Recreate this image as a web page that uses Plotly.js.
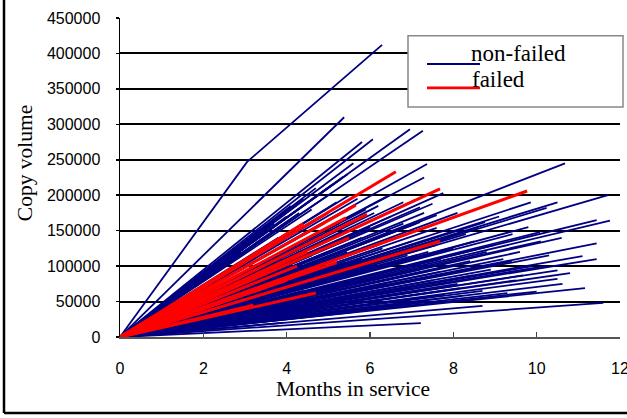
<!DOCTYPE html>
<html>
<head>
<meta charset="utf-8">
<script src="https://cdn.plot.ly/plotly-3.0.1.min.js"></script>
<style>
  html, body { margin: 0; padding: 0; background: #fff; }
  #chart { width: 627px; height: 418px; }
</style>
</head>
<body>
<div id="chart"></div>
<script>
// ---- Data (end point of each unit's usage line) ----
// Non-failed units: months in service at last observation
const nonFailedMonths = [
  5.38, 6.96, 7.27, 6.07, 5.81, 5.6, 5.47, 5.36, 5.28, 7.37, 7.3, 10.68, 11.71, 7.76, 9.86, 10.5, 10.24,
  11.44, 11.76, 10.08, 9.42, 7.6, 7.2, 7.08, 11.44, 11.44, 11.1, 8.4, 10.5, 10.62, 11.16, 10.5, 9.67,
  11.6, 8.7, 7.22, 8.76, 7.6, 7.2,
  2.6, 2.9, 3.0, 3.2, 3.3, 3.4, 3.5, 3.6, 3.7, 3.8, 3.9, 4.0, 3.1, 2.8, 3.6, 3.9, 3.0, 3.4, 3.8, 2.7,
  4.1, 4.2, 4.3, 4.4, 4.5, 4.6, 4.7, 4.8, 4.9, 4.2, 4.4, 4.6, 4.8, 5.0, 4.9, 4.3, 4.5, 4.7, 4.1, 4.0,
  4.2, 4.6, 4.4, 4.8, 4.05,
  5.0, 5.1, 5.2, 5.2, 5.3, 5.4, 5.5, 5.5, 5.6, 5.7, 5.8, 5.9, 5.3, 5.6, 5.1, 5.8, 5.4, 5.0, 5.9, 5.7,
  5.25, 5.45, 5.15,
  6.0, 6.1, 6.2, 6.3, 6.4, 6.5, 6.6, 6.7, 6.8, 6.9, 6.0, 6.3, 6.5, 6.8, 6.2, 6.6, 6.9, 6.4, 6.1, 6.7,
  7.0, 7.1, 7.2, 7.3, 7.4, 7.5, 7.55, 7.7, 7.8, 7.9, 7.15, 7.5, 7.3, 7.9, 7.6, 7.68, 7.0,
  8.0, 8.1, 8.3, 8.47, 8.6, 8.8, 8.2, 8.9, 8.5, 8.16, 8.7, 8.1,
  9.0, 9.2, 9.5, 9.8, 9.1, 9.4, 9.6, 9.9, 9.3,
  10.0, 10.1, 10.3, 10.2, 10.6, 10.8
];
// Non-failed units: cumulative copy volume at last observation
const nonFailedVolume = [
  310000, 293000, 291000, 279000, 275000, 245000, 230000, 226000, 222000, 244000, 225000, 245000, 200000, 203000, 190000, 190000, 182000,
  165000, 164000, 148000, 145000, 172000, 183000, 193000, 132000, 110000, 114000, 107000, 94000, 75000, 69000, 82000, 87000,
  48000, 44000, 19700, 162000, 154000, 162000,
  110000, 120000, 90000, 135000, 60000, 145000, 100000, 40000, 160000, 75000, 20000, 170000, 30000, 50000, 125000, 110000, 70000, 85000, 140000, 95000,
  185000, 150000, 95000, 195000, 130000, 55000, 210000, 170000, 85000, 30000, 65000, 115000, 140000, 200000, 160000, 175000, 45000, 100000, 120000, 140000,
  75000, 180000, 155000, 125000, 100000,
  175000, 215000, 125000, 190000, 70000, 150000, 95000, 200000, 35000, 165000, 110000, 180000, 135000, 80000, 50000, 140000, 105000, 120000, 60000, 195000,
  160000, 120000, 90000,
  155000, 100000, 185000, 125000, 75000, 170000, 140000, 90000, 190000, 115000, 50000, 40000, 105000, 160000, 130000, 65000, 145000, 198000, 175000, 120000,
  135000, 160000, 95000, 175000, 120000, 80000, 140000, 110000, 60000, 140000, 116000, 188000, 50000, 100000, 130000, 92000, 70000,
  125000, 75000, 145000, 87000, 155000, 120000, 58000, 95000, 135000, 69000, 65000, 175000,
  130000, 110000, 80000, 155000, 170000, 107000, 120000, 100000, 62000,
  64000, 135000, 115000, 100000, 140000, 90000
];
// The heaviest non-failed unit (its line bends near 3 months)
const topUnitMonths = [0, 2.9, 3.05, 6.29];
const topUnitVolume = [0, 235000, 247000, 412000];

// Failed units: months in service at failure and copy volume at failure
const failedMonths = [6.62, 7.68, 9.77, 5.66, 5.93, 7.68, 5.42, 4.4, 4.25, 5.2, 3.5, 4.7, 3.2, 4.0, 4.5, 5.5];
const failedVolume = [233000, 209000, 206000, 186000, 173000, 135000, 168000, 160000, 100000, 105000, 70000, 62000, 45000, 80000, 120000, 140000];

const xTicks = [0, 2, 4, 6, 8, 10, 12];
const yTicks = [0, 50000, 100000, 150000, 200000, 250000, 300000, 350000, 400000, 450000];
const legendLabels = ['non-failed', 'failed'];

// ---- Build line segments from the origin to each end point ----
function fan(months, volumes) {
  const xs = [], ys = [];
  for (let i = 0; i < months.length; i++) {
    xs.push(0, months[i], null);
    ys.push(0, volumes[i], null);
  }
  return { xs, ys };
}
const nf = fan(nonFailedMonths, nonFailedVolume);
const fl = fan(failedMonths, failedVolume);

const NAVY = '#000080';
const RED = '#ff0000';

const traces = [
  { x: nf.xs, y: nf.ys, type: 'scatter', mode: 'lines', connectgaps: false,
    line: { color: NAVY, width: 1.8 }, hoverinfo: 'skip' },
  { x: topUnitMonths, y: topUnitVolume, type: 'scatter', mode: 'lines',
    line: { color: NAVY, width: 1.8 }, hoverinfo: 'skip' },
  { x: fl.xs, y: fl.ys, type: 'scatter', mode: 'lines', connectgaps: false,
    line: { color: RED, width: 3 }, hoverinfo: 'skip' }
];

// plot area: x 120..620 px, y 18..337 px
const serif = 'Liberation Serif, Times New Roman, serif';
const sans = 'Liberation Sans, Arial, sans-serif';

const layout = {
  width: 627, height: 418,
  margin: { l: 120, r: 7, t: 18, b: 81 },
  paper_bgcolor: '#fff', plot_bgcolor: '#fff',
  showlegend: false,
  hovermode: false,
  xaxis: {
    range: [0, 12.0001], tickvals: xTicks, ticktext: xTicks.map(String),
    ticks: 'inside', ticklen: 5, tickwidth: 1.5, tickcolor: '#444',
    showline: true, linecolor: '#555', linewidth: 2,
    showgrid: false, zeroline: false,
    ticklabelstandoff: 16, ticklabeloverflow: 'allow',
    tickfont: { family: sans, size: 16, color: '#000' }
  },
  yaxis: {
    range: [0, 450000], tickvals: yTicks, ticktext: yTicks.map(String),
    ticks: 'outside', ticklen: 3, tickwidth: 1.5, tickcolor: '#000',
    showline: true, linecolor: '#000', linewidth: 1.5,
    showgrid: true, gridcolor: '#000', gridwidth: 2, zeroline: false,
    ticklabelstandoff: 12,
    tickfont: { family: sans, size: 16, color: '#000' }
  },
  annotations: [
    { text: 'Months in service', xref: 'paper', yref: 'paper', x: 0.466, y: -0.163,
      xanchor: 'center', yanchor: 'middle', showarrow: false,
      font: { family: serif, size: 21.5, color: '#000' } },
    { text: 'Copy volume', xref: 'paper', yref: 'paper', x: -0.19, y: 0.545,
      xanchor: 'center', yanchor: 'middle', textangle: -90, showarrow: false,
      font: { family: serif, size: 21.5, color: '#000' } },
    { text: legendLabels[0], xref: 'paper', yref: 'paper', x: 0.698, y: 0.888,
      xanchor: 'left', yanchor: 'middle', showarrow: false,
      font: { family: serif, size: 23, color: '#000' } },
    { text: legendLabels[1], xref: 'paper', yref: 'paper', x: 0.70, y: 0.808,
      xanchor: 'left', yanchor: 'middle', showarrow: false,
      font: { family: serif, size: 23, color: '#000' } }
  ],
  shapes: [
    // legend box
    { type: 'rect', xref: 'paper', yref: 'paper', x0: 0.576, x1: 1.006, y0: 0.721, y1: 0.944,
      fillcolor: '#fff', line: { color: '#888', width: 1.5 }, layer: 'above' },
    { type: 'line', xref: 'paper', yref: 'paper', x0: 0.614, x1: 0.72, y0: 0.856, y1: 0.856,
      line: { color: NAVY, width: 2 }, layer: 'above' },
    { type: 'line', xref: 'paper', yref: 'paper', x0: 0.614, x1: 0.72, y0: 0.781, y1: 0.781,
      line: { color: RED, width: 2.6 }, layer: 'above' },
    // outer frame (left and bottom edges)
    { type: 'line', xref: 'paper', yref: 'paper', x0: -0.232, x1: -0.232, y0: -0.238, y1: 1.1,
      line: { color: '#000', width: 2.5 }, layer: 'above' },
    { type: 'line', xref: 'paper', yref: 'paper', x0: -0.232, x1: 1.1, y0: -0.238, y1: -0.238,
      line: { color: '#000', width: 2.5 }, layer: 'above' }
  ]
};

Plotly.newPlot('chart', traces, layout, { staticPlot: true, displayModeBar: false });
</script>
</body>
</html>
